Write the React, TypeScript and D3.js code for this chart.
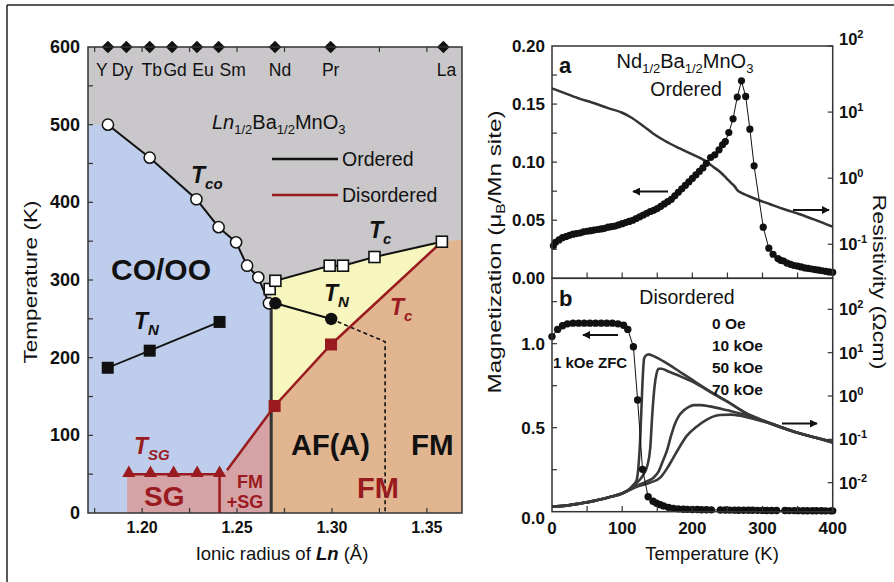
import React from 'react';
import * as d3 from 'd3';

// ---------- Left panel: phase diagram ----------
const lnElements = ['Y', 'Dy', 'Tb', 'Gd', 'Eu', 'Sm', 'Nd', 'Pr', 'La'];
const lnRadius = [1.182, 1.1917, 1.204, 1.2158, 1.2289, 1.2403, 1.27, 1.2993, 1.3587];

const tcoOrdered: number[][] = [
  [1.182, 500], [1.204, 457.5], [1.2286, 404], [1.2403, 368], [1.2495, 348.5],
  [1.2553, 318.4], [1.2612, 303.4], [1.2668, 270],
];
const tcOrdered: number[][] = [
  [1.2672, 288.4], [1.2702, 299], [1.2988, 318.4], [1.3058, 318.4], [1.3224, 329.6], [1.3579, 349.3],
];
const tnOrdered: number[][] = [[1.2702, 270], [1.2996, 249.8]];
const tnOrderedDashed: number[][] = [[1.2996, 249.8], [1.328, 220.5], [1.328, 0]];
const tnCO: number[][] = [[1.1819, 187], [1.204, 209], [1.2408, 246]];
const tcDisorderedPts: number[][] = [[1.2698, 137.8], [1.2995, 217]];
const tcDisorderedLine: number[][] = [[1.2447, 55], [1.2698, 137.8], [1.2995, 217], [1.3579, 349.3]];
const tsgPts: number[][] = [[1.193, 50], [1.2044, 50], [1.2166, 50], [1.229, 50], [1.2408, 50]];
const phaseBoundaryR = 1.268;
const sgLeftR = 1.1921;
const xTicksL = [1.175, 1.2, 1.225, 1.25, 1.275, 1.3, 1.325, 1.35];
const xLabelsL = [1.2, 1.25, 1.3, 1.35];
const yTicksL = [50, 100, 150, 200, 250, 300, 350, 400, 450, 500, 550];
const yLabelsL = [0, 100, 200, 300, 400, 500, 600];

// ---------- Right panel a: ordered Nd1/2Ba1/2MnO3 ----------
const magA: number[][] = [
  [2, 0.028], [5, 0.031], [10, 0.033], [15, 0.035], [20, 0.036], [25, 0.037], [30, 0.038], [35, 0.0385],
  [40, 0.039], [45, 0.04], [50, 0.0405], [55, 0.041], [60, 0.0415], [65, 0.042], [70, 0.0425], [75, 0.043],
  [80, 0.044], [85, 0.0445], [90, 0.045], [95, 0.046], [100, 0.047], [105, 0.048], [110, 0.049], [115, 0.05],
  [120, 0.0515], [125, 0.053], [130, 0.0545], [135, 0.056], [140, 0.0575], [145, 0.0585], [150, 0.06],
  [155, 0.062], [160, 0.064], [165, 0.066], [170, 0.068], [175, 0.071], [180, 0.074], [185, 0.077],
  [190, 0.08], [195, 0.083], [200, 0.086], [205, 0.089], [210, 0.092], [215, 0.095], [220, 0.099],
  [226, 0.104], [232, 0.1063], [238, 0.1106], [243, 0.115], [247, 0.1178], [252, 0.1255], [258, 0.1373],
  [264, 0.156], [270, 0.17], [276, 0.1566], [282, 0.1284], [288, 0.0968], [301, 0.044], [309, 0.0259],
  [315, 0.0207], [322, 0.017], [326, 0.0155], [330, 0.0149], [335, 0.013], [340, 0.012], [345, 0.011],
  [350, 0.0105], [355, 0.0098], [360, 0.009], [365, 0.0085], [370, 0.008], [375, 0.0075], [380, 0.007],
  [385, 0.0065], [390, 0.006], [395, 0.0055], [400, 0.0052],
];
// log10 of resistivity (Ohm cm)
const rhoA: number[][] = [
  [0, 1.36], [20, 1.28], [40, 1.2], [54, 1.156], [80, 1.06], [100, 0.99], [111, 0.929], [130, 0.79],
  [144, 0.677], [160, 0.57], [182, 0.45], [200, 0.36], [220, 0.25], [230, 0.17], [240, 0.09], [249, -0.005],
  [255, -0.07], [260, -0.12], [264, -0.18], [270, -0.223], [280, -0.27], [292, -0.323], [310, -0.39],
  [325, -0.45], [340, -0.5], [353, -0.545], [375, -0.63], [400, -0.735],
];
const yTicksMa = [0.025, 0.05, 0.075, 0.1, 0.125, 0.15, 0.175];
const yLabelsMa = [0, 0.05, 0.1, 0.15, 0.2];
const rhoDecadesA = [-1, 0, 1, 2];

// ---------- Right panel b: disordered ----------
const magB: number[][] = [
  [0, 1.042], [8, 1.085], [15, 1.107], [22, 1.118], [30, 1.122], [38, 1.122], [46, 1.122], [54, 1.122],
  [62, 1.122], [70, 1.122], [78, 1.122], [86, 1.122], [94, 1.118], [102, 1.11], [108, 1.085], [116, 0.982],
  [122, 0.665], [129, 0.252], [137, 0.089], [144, 0.062], [149, 0.05], [154, 0.042], [159, 0.034],
  [166, 0.026], [173, 0.02], [180, 0.017], [187, 0.015], [193, 0.014], [200, 0.013], [207, 0.013],
  [213, 0.012], [220, 0.012], [227, 0.011], [240, 0.01], [247, 0.0098], [253, 0.0095], [260, 0.0092],
  [266, 0.009], [273, 0.0088], [280, 0.0085], [286, 0.0082], [293, 0.008], [300, 0.0078], [306, 0.0075],
  [313, 0.0073], [320, 0.007], [332, 0.0068], [338, 0.0066], [345, 0.0064], [351, 0.0062], [358, 0.006],
  [364, 0.0058], [371, 0.0056], [377, 0.0055], [384, 0.0053], [390, 0.0052], [397, 0.005], [400, 0.005],
];
const rho0Oe: number[][] = [
  [0, -2.55], [20, -2.53], [40, -2.48], [60, -2.42], [80, -2.34], [100, -2.24], [110, -2.15], [116, -2.05],
  [120.6, -1.94], [125.6, -1.02], [128.9, 0.29], [131.3, 0.87], [135, 0.95], [138, 0.96], [142, 0.94],
  [150, 0.88], [165, 0.74], [182, 0.56], [200, 0.37], [230, 0.06], [250, -0.13], [277, -0.4], [300, -0.56],
  [325, -0.71], [350, -0.85], [375, -0.96], [400, -1.06],
];
const rho10kOe: number[][] = [
  [0, -2.55], [20, -2.53], [40, -2.48], [60, -2.42], [80, -2.34], [100, -2.25], [110, -2.16], [120, -2.02],
  [130, -1.82], [136, -1.6], [140, -1.2], [143, -0.4], [146, 0.2], [149, 0.52], [152, 0.63], [156, 0.63],
  [165, 0.57], [182, 0.46], [200, 0.33], [230, 0.05], [250, -0.13], [277, -0.4], [300, -0.56],
  [325, -0.71], [350, -0.85], [375, -0.96], [400, -1.06],
];
const rho50kOe: number[][] = [
  [0, -2.55], [20, -2.53], [40, -2.48], [60, -2.42], [80, -2.34], [100, -2.25], [120, -2.08], [135, -1.97],
  [145, -1.88], [152, -1.74], [158, -1.5], [164, -1.25], [170, -0.9], [175, -0.65], [180, -0.48],
  [188, -0.33], [195, -0.25], [202, -0.21], [212, -0.21], [225, -0.24], [250, -0.33], [277, -0.44],
  [300, -0.57], [325, -0.72], [350, -0.85], [375, -0.96], [400, -1.07],
];
const rho70kOe: number[][] = [
  [0, -2.55], [20, -2.53], [40, -2.48], [60, -2.42], [80, -2.34], [100, -2.25], [120, -2.1], [140, -2.0],
  [155, -1.87], [164, -1.67], [172, -1.45], [182, -1.17], [192, -0.92], [206, -0.71], [220, -0.55],
  [239, -0.44], [255, -0.43], [270, -0.46], [290, -0.54], [310, -0.63], [330, -0.74], [350, -0.85],
  [375, -0.96], [400, -1.08],
];
const fieldLabels = ['0 Oe', '10 kOe', '50 kOe', '70 kOe'];
const yTicksMb = [0.25, 0.5, 0.75, 1.0, 1.25];
const yLabelsMb = [0, 0.5, 1.0];
const rhoDecadesB = [-2, -1, 0, 1, 2];
const xTicksR = [50, 100, 150, 200, 250, 300, 350];
const xLabelsR = [0, 100, 200, 300, 400];

const C = {
  gray: '#c9c7c9', blue: '#bdcdeb', yellow: '#f6f6be', orange: '#e0b58f', pink: '#d5a2a5',
  red: '#9a1b1f', ink: '#111', frame: '#333',
};
const FONT = "'Liberation Sans', Arial, sans-serif";

function Sup({ base, exp, x, y }: { base: string; exp: string; x: number; y: number }) {
  return (
    <text x={x} y={y} fontSize={16.5} fontWeight="bold" fill={C.ink}>
      {base}
      <tspan dy={-7} fontSize={11}>{exp}</tspan>
    </text>
  );
}

export default function App() {
  // left scales
  const xL = d3.scaleLinear().domain([1.1715, 1.3685]).range([88, 462]);
  const yL = d3.scaleLinear().domain([0, 600]).range([513, 47]);
  const lineL = d3.line<number[]>().x((d) => xL(d[0])).y((d) => yL(d[1]));
  const [xmin, xmax] = xL.domain();

  // right scales
  const xR = d3.scaleLinear().domain([0, 400]).range([552, 832.7]);
  const yMa = d3.scaleLinear().domain([0, 0.2]).range([278.3, 46]);
  const yRa = d3.scaleLog().domain([Math.pow(10, -1.515), 100]).range([278.3, 46]);
  const yMb = d3.scaleLinear().domain([0, 1.389]).range([511.7, 278.3]);
  const yRb = d3.scaleLog().domain([Math.pow(10, -2.67), Math.pow(10, 2.716)]).range([511.7, 278.3]);

  const lineMa = d3.line<number[]>().x((d) => xR(d[0])).y((d) => yMa(d[1]));
  const lineRa = d3.line<number[]>().x((d) => xR(d[0])).y((d) => yRa(Math.pow(10, d[1]))).curve(d3.curveMonotoneX);
  const lineMb = d3.line<number[]>().x((d) => xR(d[0])).y((d) => yMb(d[1]));
  const lineRb = d3.line<number[]>().x((d) => xR(d[0])).y((d) => yRb(Math.pow(10, d[1]))).curve(d3.curveMonotoneX);

  // region polygons
  const bluePoly = [[xmin, 0], [xmin, 500], ...tcoOrdered, [phaseBoundaryR, 270], [phaseBoundaryR, 0]];
  const pinkPoly = [[sgLeftR, 0], [sgLeftR, 50], [1.2408, 50], tcDisorderedLine[0], [phaseBoundaryR, 132], [phaseBoundaryR, 0]];
  const orangePoly = [[phaseBoundaryR, 0], [phaseBoundaryR, 132], ...tcDisorderedLine.slice(1), [xmax, 352], [xmax, 0]];
  const yellowPoly = [[phaseBoundaryR, 132], [phaseBoundaryR, 288], ...tcOrdered, ...tcDisorderedLine.slice(1, 3).reverse()];

  const diamond = d3.symbol().type(d3.symbolSquare).size(80)();
  const tri = d3.symbol().type(d3.symbolTriangle).size(75)();

  const [ra0, ra1] = xR.range();
  const labelDx = [-6, -4, 2, 3, 6, 14, 5, 0, 3];

  return (
    <svg width={894} height={582} style={{ position: 'absolute', left: 0, top: 0, background: '#fff' }} fontFamily={FONT}>
      <defs>
        <marker id="ah" viewBox="0 0 10 10" refX="9" refY="5" markerWidth="4" markerHeight="4" orient="auto-start-reverse">
          <path d="M0,0 L10,5 L0,10 z" fill={C.ink} />
        </marker>
      </defs>
      {/* page border */}
      <line x1={7} y1={5} x2={894} y2={5} stroke="#222" strokeWidth={1.5} />
      <line x1={7} y1={5} x2={7} y2={582} stroke="#222" strokeWidth={1.5} />

      {/* ================= LEFT PANEL ================= */}
      <rect x={88} y={47} width={374} height={466} fill={C.gray} />
      <path d={lineL(bluePoly as number[][]) + 'Z'} fill={C.blue} />
      <path d={lineL(orangePoly as number[][]) + 'Z'} fill={C.orange} />
      <path d={lineL(yellowPoly as number[][]) + 'Z'} fill={C.yellow} />
      <path d={lineL(pinkPoly as number[][]) + 'Z'} fill={C.pink} />

      {/* ticks */}
      {xTicksL.map((t) => (
        <g key={'xt' + t}>
          <line x1={xL(t)} x2={xL(t)} y1={513} y2={508} stroke={C.frame} strokeWidth={1.2} />
          <line x1={xL(t)} x2={xL(t)} y1={47} y2={52} stroke={C.frame} strokeWidth={1.2} />
        </g>
      ))}
      {yTicksL.map((t) => (
        <line key={'yt' + t} x1={88} x2={93} y1={yL(t)} y2={yL(t)} stroke={C.frame} strokeWidth={1.2} />
      ))}
      {xLabelsL.map((t) => (
        <text key={'xl' + t} x={xL(t)} y={533} textAnchor="middle" fontSize={16} fontWeight="bold" fill={C.ink}>
          {t.toFixed(2)}
        </text>
      ))}
      {yLabelsL.map((t) => (
        <text key={'yl' + t} x={80} y={yL(t) + 6} textAnchor="end" fontSize={18} fontWeight="bold" fill={C.ink}>
          {t}
        </text>
      ))}

      {/* boundary lines */}
      <line x1={xL(phaseBoundaryR)} x2={xL(phaseBoundaryR)} y1={yL(0)} y2={yL(270)} stroke="#333" strokeWidth={3} />
      <path d={lineL(tcoOrdered) || ''} fill="none" stroke={C.ink} strokeWidth={2} />
      <path d={lineL(tcOrdered) || ''} fill="none" stroke={C.ink} strokeWidth={2} />
      <path d={lineL(tnOrdered) || ''} fill="none" stroke={C.ink} strokeWidth={2} />
      <path d={lineL(tnOrderedDashed) || ''} fill="none" stroke={C.ink} strokeWidth={1.6} strokeDasharray="4,3" />
      <path d={lineL(tnCO) || ''} fill="none" stroke={C.ink} strokeWidth={1.8} />
      <path d={lineL(tcDisorderedLine) || ''} fill="none" stroke={C.red} strokeWidth={2.5} />
      <path d={lineL(tsgPts) || ''} fill="none" stroke={C.red} strokeWidth={2.5} />
      <line x1={xL(1.2408)} x2={xL(1.2408)} y1={yL(0)} y2={yL(50)} stroke={C.red} strokeWidth={2.5} />

      {/* markers */}
      {tcoOrdered.map((d, i) => (
        <circle key={'co' + i} cx={xL(d[0])} cy={yL(d[1])} r={5.6} fill="#fff" stroke={C.ink} strokeWidth={1.5} />
      ))}
      {tcOrdered.map((d, i) => (
        <rect key={'tc' + i} x={xL(d[0]) - 5.5} y={yL(d[1]) - 5.5} width={11} height={11} fill="#fff" stroke={C.ink} strokeWidth={1.6} />
      ))}
      {tnOrdered.map((d, i) => (
        <circle key={'tn' + i} cx={xL(d[0])} cy={yL(d[1])} r={6.2} fill={C.ink} />
      ))}
      {tnCO.map((d, i) => (
        <rect key={'tnco' + i} x={xL(d[0]) - 6} y={yL(d[1]) - 6} width={12} height={12} fill={C.ink} />
      ))}
      {tcDisorderedPts.map((d, i) => (
        <rect key={'tcd' + i} x={xL(d[0]) - 6} y={yL(d[1]) - 6} width={12} height={12} fill={C.red} />
      ))}
      {tsgPts.map((d, i) => (
        <path key={'sg' + i} d={tri || ''} transform={`translate(${xL(d[0])},${yL(d[1]) - 1})`} fill={C.red} />
      ))}
      {lnRadius.map((r, i) => (
        <path key={'dm' + i} d={diamond || ''} transform={`translate(${xL(r)},${yL(600)}) rotate(45)`} fill={C.ink} />
      ))}
      {lnElements.map((e, i) => (
        <text key={'el' + e} x={xL(lnRadius[i]) + labelDx[i]} y={76} textAnchor="middle" fontSize={17.5} fill={C.ink}>
          {e}
        </text>
      ))}

      <rect x={88} y={47} width={374} height={466} fill="none" stroke={C.frame} strokeWidth={1.5} />

      {/* left panel texts */}
      <text x={212} y={129} fontSize={20} fill={C.ink}>
        <tspan fontStyle="italic">Ln</tspan>
        <tspan dy={5} fontSize={13}>1/2</tspan>
        <tspan dy={-5}>Ba</tspan>
        <tspan dy={5} fontSize={13}>1/2</tspan>
        <tspan dy={-5}>MnO</tspan>
        <tspan dy={5} fontSize={13}>3</tspan>
      </text>
      <line x1={272} x2={338} y1={159} y2={159} stroke={C.ink} strokeWidth={2.5} />
      <line x1={272} x2={338} y1={195} y2={195} stroke={C.red} strokeWidth={2.5} />
      <text x={342} y={166} fontSize={19.5} fill={C.ink}>Ordered</text>
      <text x={342} y={202} fontSize={19.5} fill={C.ink}>Disordered</text>

      <g fontWeight="bold" fontStyle="italic">
        <text x={191} y={183} fontSize={23} fill={C.ink}>T<tspan dy={6} fontSize={15}>co</tspan></text>
        <text x={369} y={238} fontSize={23} fill={C.ink}>T<tspan dy={6} fontSize={15}>c</tspan></text>
        <text x={324} y={301} fontSize={23} fill={C.ink}>T<tspan dy={6} fontSize={15}>N</tspan></text>
        <text x={390} y={315} fontSize={23} fill={C.red}>T<tspan dy={6} fontSize={15}>c</tspan></text>
        <text x={134} y={329} fontSize={23} fill={C.ink}>T<tspan dy={6} fontSize={15}>N</tspan></text>
        <text x={134} y={454} fontSize={23} fill={C.red}>T<tspan dy={6} fontSize={15}>SG</tspan></text>
      </g>
      <g fontWeight="bold">
        <text x={111} y={280} fontSize={30} fill={C.ink}>CO/OO</text>
        <text x={291} y={455} fontSize={29} fill={C.ink}>AF(A)</text>
        <text x={411} y={455} fontSize={29.5} fill={C.ink}>FM</text>
        <text x={357} y={498} fontSize={29} fill={C.red}>FM</text>
        <text x={144} y={506} fontSize={28} fill={C.red}>SG</text>
        <text x={250} y={488} fontSize={18} fill={C.red} textAnchor="middle">FM</text>
        <text x={245} y={508} fontSize={18} fill={C.red} textAnchor="middle">+SG</text>
      </g>

      <text x={282} y={560} fontSize={18.5} textAnchor="middle" fill={C.ink}>
        Ionic radius of <tspan fontWeight="bold" fontStyle="italic">Ln</tspan> (Å)
      </text>
      <text transform="translate(37,282) rotate(-90)" fontSize={19} textAnchor="middle" fill={C.ink} textLength={163} lengthAdjust="spacingAndGlyphs">
        Temperature (K)
      </text>

      {/* ================= RIGHT PANEL ================= */}
      {/* panel a */}
      <path d={lineRa(rhoA) || ''} fill="none" stroke="#333" strokeWidth={2.5} />
      <path d={lineMa(magA) || ''} fill="none" stroke={C.ink} strokeWidth={1} />
      {magA.map((d, i) => (
        <circle key={'ma' + i} cx={xR(d[0])} cy={yMa(d[1])} r={3.6} fill={C.ink} />
      ))}
      {/* panel b */}
      {[rho0Oe, rho10kOe, rho50kOe, rho70kOe].map((s, i) => (
        <path key={'rb' + i} d={lineRb(s) || ''} fill="none" stroke="#3a3a3a" strokeWidth={2.6} />
      ))}
      <path d={lineMb(magB) || ''} fill="none" stroke={C.ink} strokeWidth={1} />
      {magB.map((d, i) => (
        <circle key={'mb' + i} cx={xR(d[0])} cy={yMb(d[1])} r={3.7} fill={C.ink} />
      ))}

      {/* frames */}
      <rect x={ra0} y={46} width={ra1 - ra0} height={278.3 - 46} fill="none" stroke={C.frame} strokeWidth={1.5} />
      <rect x={ra0} y={278.3} width={ra1 - ra0} height={511.7 - 278.3} fill="none" stroke={C.frame} strokeWidth={1.5} />

      {/* ticks */}
      {xTicksR.map((t) => (
        <g key={'xr' + t}>
          <line x1={xR(t)} x2={xR(t)} y1={278.3} y2={272.5} stroke={C.frame} strokeWidth={1.2} />
          <line x1={xR(t)} x2={xR(t)} y1={511.7} y2={506} stroke={C.frame} strokeWidth={1.2} />
        </g>
      ))}
      {yTicksMa.map((t) => (
        <line key={'ya' + t} x1={ra0} x2={ra0 + 5} y1={yMa(t)} y2={yMa(t)} stroke={C.frame} strokeWidth={1.2} />
      ))}
      {yTicksMb.map((t) => (
        <line key={'yb' + t} x1={ra0} x2={ra0 + 5} y1={yMb(t)} y2={yMb(t)} stroke={C.frame} strokeWidth={1.2} />
      ))}
      {rhoDecadesA.map((e) => (
        <line key={'ra' + e} x1={ra1} x2={ra1 - 5} y1={yRa(Math.pow(10, e))} y2={yRa(Math.pow(10, e))} stroke={C.frame} strokeWidth={1.2} />
      ))}
      {rhoDecadesB.map((e) => (
        <line key={'rbt' + e} x1={ra1} x2={ra1 - 5} y1={yRb(Math.pow(10, e))} y2={yRb(Math.pow(10, e))} stroke={C.frame} strokeWidth={1.2} />
      ))}

      {/* tick labels */}
      {yLabelsMa.map((t) => (
        <text key={'yla' + t} x={545} y={yMa(t) + 6} textAnchor="end" fontSize={17} fontWeight="bold" fill={C.ink}>
          {t.toFixed(2)}
        </text>
      ))}
      {yLabelsMb.map((t) => (
        <text key={'ylb' + t} x={545} y={yMb(t) + (t === 0 ? 12 : 6)} textAnchor="end" fontSize={17} fontWeight="bold" fill={C.ink}>
          {t.toFixed(1)}
        </text>
      ))}
      {xLabelsR.map((t) => (
        <text key={'xlr' + t} x={xR(t)} y={534} textAnchor="middle" fontSize={17} fontWeight="bold" fill={C.ink}>
          {t}
        </text>
      ))}
      {rhoDecadesA.map((e) => (
        <Sup key={'sa' + e} base="10" exp={String(e)} x={839} y={yRa(Math.pow(10, e)) + (e === 2 ? -1 : 6)} />
      ))}
      {rhoDecadesB.map((e) => (
        <Sup key={'sb' + e} base="10" exp={String(e)} x={839} y={yRb(Math.pow(10, e)) + 6} />
      ))}

      {/* panel texts */}
      <text x={559} y={73} fontSize={22} fontWeight="bold" fill={C.ink}>a</text>
      <text x={559} y={306} fontSize={22} fontWeight="bold" fill={C.ink}>b</text>
      <text x={685} y={68} fontSize={20} textAnchor="middle" fill={C.ink}>
        Nd<tspan dy={5} fontSize={13}>1/2</tspan>
        <tspan dy={-5}>Ba</tspan>
        <tspan dy={5} fontSize={13}>1/2</tspan>
        <tspan dy={-5}>MnO</tspan>
        <tspan dy={5} fontSize={13}>3</tspan>
      </text>
      <text x={686} y={96} fontSize={19.5} textAnchor="middle" fill={C.ink}>Ordered</text>
      <text x={687} y={304} fontSize={19.5} textAnchor="middle" fill={C.ink}>Disordered</text>
      {fieldLabels.map((s, i) => (
        <text key={s} x={712} y={328.5 + i * 22} fontSize={15.5} fontWeight="bold" fill={C.ink}>{s}</text>
      ))}
      <text x={553} y={368} fontSize={15} fontWeight="bold" fill={C.ink}>1 kOe ZFC</text>

      {/* arrows */}
      <line x1={668} y1={191.5} x2={633} y2={191.5} stroke={C.ink} strokeWidth={2} markerEnd="url(#ah)" />
      <line x1={793} y1={210} x2={829} y2={210} stroke={C.ink} strokeWidth={2} markerEnd="url(#ah)" />
      <line x1={618} y1={335} x2={583} y2={335} stroke={C.ink} strokeWidth={2} markerEnd="url(#ah)" />
      <line x1={782} y1={423.5} x2={817} y2={423.5} stroke={C.ink} strokeWidth={2} markerEnd="url(#ah)" />

      {/* axis titles */}
      <text x={712} y={560} fontSize={18.5} textAnchor="middle" fill={C.ink}>Temperature (K)</text>
      <text transform="translate(501,252) rotate(-90)" fontSize={19} textAnchor="middle" fill={C.ink} textLength={283} lengthAdjust="spacingAndGlyphs">
        Magnetization (μ<tspan dy={4} fontSize={12}>B</tspan><tspan dy={-4}>/Mn site)</tspan>
      </text>
      <text transform="translate(873,282) rotate(90)" fontSize={19} textAnchor="middle" fill={C.ink} textLength={175} lengthAdjust="spacingAndGlyphs">
        Resistivity (Ωcm)
      </text>
    </svg>
  );
}
